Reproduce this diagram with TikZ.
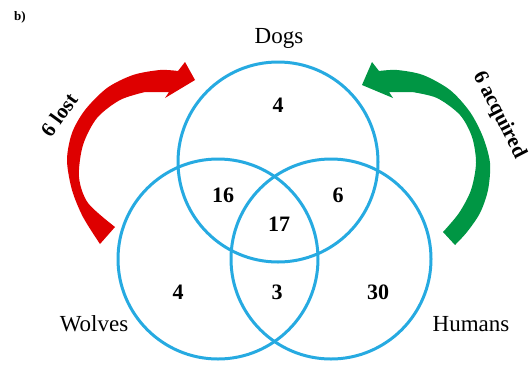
\documentclass[tikz,border=0pt]{standalone}
\usepackage{fontspec}
\setmainfont{Liberation Serif}
\usetikzlibrary{positioning}
\definecolor{vennblue}{RGB}{38,170,225}
\definecolor{lostred}{RGB}{222,0,0}
\definecolor{gaingreen}{RGB}{0,150,68}

\begin{document}
\begin{tikzpicture}[x=1pt,y=-1pt,
  set/.style={circle,draw=vennblue,line width=3pt,minimum size=200pt,inner sep=0pt},
  tally/.style={font=\fontsize{22}{22}\selectfont\bfseries},
  species/.style={font=\fontsize{23}{23}\selectfont},
  change/.style={font=\fontsize{21}{21}\selectfont\bfseries}]
  \useasboundingbox (0,0) rectangle (532,370);
  \node[font=\fontsize{13}{13}\selectfont\bfseries] (panel) at (20,17) {b)};

  % the three sets
  \node[set] (D) at (278,162) {};
  \node[set] (W) at (218,259) {};
  \node[set] (H) at (331,259) {};
  \node[species] (Dl) at (279,38) {Dogs};
  \node[species] (Wl) at (94,324) {Wolves};
  \node[species] (Hl) at (471,324) {Humans};

  % counts
  \node[tally] (d) at (278,105) {4};
  \node[tally] (dw) at (223,195) {16};
  \node[tally] (dh) at (338,195) {6};
  \node[tally] (dwh) at (279,224) {17};
  \node[tally] (w) at (178,292) {4};
  \node[tally] (wh) at (277,292) {3};
  \node[tally] (h) at (378,292) {30};

  % lost and acquired
  \fill[lostred] plot[smooth] coordinates {(100,244) (83,217) (72,190) (67,160)
    (72,133) (85,110) (107,88) (133,75) (160,70) (178,71)}
    -- (185,62) -- (195,80) -- (165,98) -- (169,92)
    -- plot[smooth] coordinates {(145,92) (120,100) (97,118) (83,145) (79,177)
    (88,203) (115,227)} -- cycle;
  \fill[gaingreen] plot[smooth] coordinates {(455,245) (467,232) (480,213) (488,190)
    (490,163) (483,137) (470,112) (450,90) (423,75) (397,70) (379,71)}
    -- (372,62) -- (362,85) -- (393,98) -- (389,92)
    -- plot[smooth] coordinates {(412,92) (437,98) (460,115) (472,137)
    (476,163) (471,190) (459,213) (443,232)} -- cycle;
  \node[change,rotate=54] (lost) at (59,115) {6 lost};
  \node[change,rotate=-63] (acq) at (499,115) {6 acquired};
\end{tikzpicture}
\end{document}
